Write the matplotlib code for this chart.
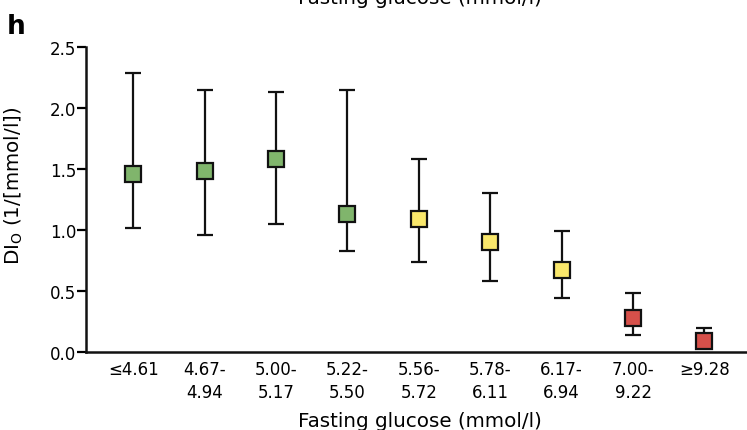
#!/usr/bin/env python3
# DI_O by fasting glucose category, medians with error bars

import matplotlib
matplotlib.use("Agg")
import matplotlib.pyplot as plt

# ── Data ─────────────────────────────────────────────────────────────────────
categories = ["≤4.61", "4.67-\n4.94", "5.00-\n5.17", "5.22-\n5.50", "5.56-\n5.72",
              "5.78-\n6.11", "6.17-\n6.94", "7.00-\n9.22", "≥9.28"]
di_mid   = [1.46, 1.48, 1.58, 1.13, 1.09, 0.90, 0.67, 0.28, 0.09]
di_low   = [1.02, 0.96, 1.05, 0.83, 0.74, 0.58, 0.44, 0.14, 0.03]
di_high  = [2.29, 2.15, 2.13, 2.15, 1.58, 1.30, 0.99, 0.48, 0.20]
groups   = ["green", "green", "green", "green", "yellow", "yellow", "yellow", "red", "red"]
# ────────────────────────────────────────────────────────────────────────────

COLORS = {"green": "#80b56c", "yellow": "#f9e76b", "red": "#d6504a"}

plt.rcParams["font.family"] = ["DejaVu Sans"]

W, H = 747, 431
fig = plt.figure(figsize=(W / 100, H / 100), dpi=100)
ax = fig.add_axes([86 / W, 1 - 353 / H, (W - 86) / W + 0.01, (353 - 48) / H])

x = list(range(len(categories)))
for i in x:
    ax.errorbar(i, di_mid[i],
                yerr=[[di_mid[i] - di_low[i]], [di_high[i] - di_mid[i]]],
                fmt="s", ms=11, mfc=COLORS[groups[i]], mec="#111111", mew=1.6,
                ecolor="#111111", elinewidth=1.6, capsize=5.8, capthick=1.6,
                zorder=3, clip_on=False)

ax.set_xlim(-0.66, 8.7)
ax.set_ylim(0, 2.5)
ax.set_yticks([0, 0.5, 1.0, 1.5, 2.0, 2.5])
ax.set_yticklabels(["0.0", "0.5", "1.0", "1.5", "2.0", "2.5"])
ax.set_xticks(x)
ax.set_xticklabels(categories, ha="center", fontsize=12, linespacing=1.38)
ax.tick_params(axis="x", length=0, pad=5.5)
ax.tick_params(axis="y", length=6.5, width=1.6, pad=0.5, labelsize=12, direction="out")

for s in ["top", "right"]:
    ax.spines[s].set_visible(False)
for s in ["left", "bottom"]:
    ax.spines[s].set_linewidth(1.8)
    ax.spines[s].set_color("#111111")

fig.text(14 / W, 1 - 186 / H, r"DI$_\mathrm{O}$ (1/[mmol/l])", rotation=90,
         ha="center", va="center", fontsize=14.3)
fig.text(420 / W, 1 - 427 / H, "Fasting glucose (mmol/l)", ha="center",
         va="baseline", fontsize=14.3)
# label of the panel above, cut off at the top edge as in the source
fig.text(420 / W, 1 - 3.5 / H, "Fasting glucose (mmol/l)", ha="center",
         va="baseline", fontsize=14.3)
fig.text(7 / W, 1 - 34 / H, "h", fontsize=19, fontweight="bold", va="baseline")

fig.savefig("out.png", dpi=100)
